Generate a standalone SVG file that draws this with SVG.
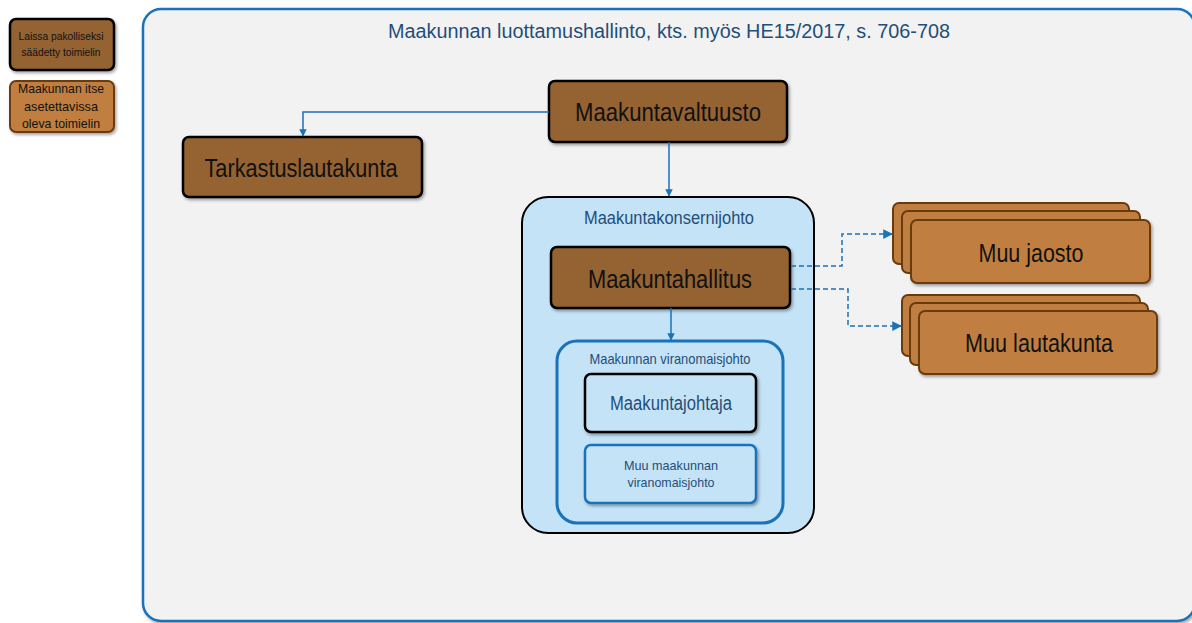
<svg xmlns="http://www.w3.org/2000/svg" width="1192" height="623" viewBox="0 0 1192 623">
<defs>
<filter id="sh" x="-10%" y="-10%" width="130%" height="140%">
<feDropShadow dx="1.5" dy="2" stdDeviation="1.5" flood-color="#000" flood-opacity="0.35"/>
</filter>
<marker id="ah" viewBox="0 0 10 10" refX="9" refY="5" markerWidth="5" markerHeight="5" markerUnits="strokeWidth" orient="auto">
<path d="M0,0 L10,5 L0,10 z" fill="#1A72B8"/>
</marker>
<marker id="ahd" viewBox="0 0 10 10" refX="9" refY="5" markerWidth="6.5" markerHeight="6.5" markerUnits="strokeWidth" orient="auto">
<path d="M0,0 L10,5 L0,10 z" fill="#1A72B8"/>
</marker>
</defs>
<style>
text{font-family:"Liberation Sans",Arial,sans-serif;text-anchor:middle}
.dark{fill:#956232;stroke:#000;stroke-width:2.5}
.light{fill:#C07F40;stroke:#6B3A0A;stroke-width:2}
.blk{fill:#111}
.blue{fill:#1F4E79}
.conn{fill:none;stroke:#1A72B8;stroke-width:1.5}
.dash{stroke-dasharray:5,3}
</style>
<rect width="1192" height="623" fill="#fff"/>
<g id="outer">
<rect x="143" y="9" width="1052" height="612" rx="18" fill="#F2F2F2" stroke="#1A72B8" stroke-width="2.5" filter="url(#sh)"/>
<text x="669" y="38" font-size="20" class="blue" textLength="562" lengthAdjust="spacingAndGlyphs">Maakunnan luottamushallinto,  kts. myös HE15/2017, s. 706-708</text>
</g>
<g id="legend1">
<rect x="10" y="19" width="104" height="51" rx="6" class="dark" filter="url(#sh)"/>
<text x="61" y="40" font-size="11.5" class="blk" textLength="85" lengthAdjust="spacingAndGlyphs">Laissa pakolliseksi</text>
<text x="61" y="56" font-size="11.5" class="blk" textLength="79" lengthAdjust="spacingAndGlyphs">säädetty  toimielin</text>
</g>
<g id="legend2">
<rect x="10" y="81" width="104" height="51" rx="6" class="light" filter="url(#sh)"/>
<text x="61" y="93" font-size="13" class="blk" textLength="86" lengthAdjust="spacingAndGlyphs">Maakunnan itse</text>
<text x="61" y="111" font-size="13" class="blk" textLength="74" lengthAdjust="spacingAndGlyphs">asetettavissa</text>
<text x="61" y="128" font-size="13" class="blk" textLength="78" lengthAdjust="spacingAndGlyphs">oleva toimielin</text>
</g>
<g id="konsernijohto">
<rect x="522" y="197" width="292" height="336" rx="26" fill="#C5E3F6" stroke="#000" stroke-width="2"/>
<text x="669" y="224" font-size="17.5" class="blue" textLength="170" lengthAdjust="spacingAndGlyphs">Maakuntakonsernijohto</text>
</g>
<g id="viranomaisjohto">
<rect x="557" y="341" width="226" height="182" rx="20" fill="#C5E3F6" stroke="#1A72B8" stroke-width="3"/>
<text x="670" y="364" font-size="14.5" class="blue" textLength="161" lengthAdjust="spacingAndGlyphs">Maakunnan  viranomaisjohto</text>
</g>
<g id="maakuntavaltuusto">
<rect x="549" y="81" width="238" height="61" rx="6" class="dark" filter="url(#sh)"/>
<text x="668" y="121" font-size="26" class="blk" textLength="186" lengthAdjust="spacingAndGlyphs">Maakuntavaltuusto</text>
</g>
<g id="tarkastuslautakunta">
<rect x="183" y="137" width="239" height="60" rx="6" class="dark" filter="url(#sh)"/>
<text x="301" y="177" font-size="26" class="blk" textLength="193" lengthAdjust="spacingAndGlyphs">Tarkastuslautakunta</text>
</g>
<g id="maakuntahallitus">
<rect x="551" y="247" width="239" height="61" rx="6" class="dark" filter="url(#sh)"/>
<text x="670" y="288" font-size="26" class="blk" textLength="164" lengthAdjust="spacingAndGlyphs">Maakuntahallitus</text>
</g>
<g id="maakuntajohtaja">
<rect x="585" y="374" width="171" height="58" rx="6" fill="#C5E3F6" stroke="#000" stroke-width="2.5" filter="url(#sh)"/>
<text x="671" y="410" font-size="20" class="blue" textLength="122" lengthAdjust="spacingAndGlyphs">Maakuntajohtaja</text>
</g>
<g id="muu-viranomaisjohto">
<rect x="585" y="445" width="171" height="58" rx="6" fill="#C5E3F6" stroke="#1A72B8" stroke-width="2.5" filter="url(#sh)"/>
<text x="671" y="470" font-size="13" class="blue" textLength="94" lengthAdjust="spacingAndGlyphs">Muu maakunnan</text>
<text x="671" y="487" font-size="13" class="blue" textLength="87" lengthAdjust="spacingAndGlyphs">viranomaisjohto</text>
</g>
<g id="muu-jaosto">
<rect x="893" y="203" width="236" height="61" rx="6" class="light"/>
<rect x="902" y="211" width="238" height="62" rx="6" class="light"/>
<rect x="911" y="220" width="239" height="63" rx="6" class="light" filter="url(#sh)"/>
<text x="1031" y="262" font-size="26" class="blk" textLength="105" lengthAdjust="spacingAndGlyphs">Muu jaosto</text>
</g>
<g id="muu-lautakunta">
<rect x="902" y="295" width="238" height="61" rx="6" class="light"/>
<rect x="910" y="303" width="238" height="62" rx="6" class="light"/>
<rect x="919" y="311" width="238" height="63" rx="6" class="light" filter="url(#sh)"/>
<text x="1039" y="352" font-size="26" class="blk" textLength="148" lengthAdjust="spacingAndGlyphs">Muu lautakunta</text>
</g>
<g id="connectors">
<path d="M549,112 H303 V136" class="conn" marker-end="url(#ah)"/>
<path d="M669,142 V196" class="conn" marker-end="url(#ah)"/>
<path d="M671,308 V340" class="conn" marker-end="url(#ah)"/>
<path d="M791,266 H842 V234 H892" class="conn dash" marker-end="url(#ahd)"/>
<path d="M791,289 H848 V326 H901" class="conn dash" marker-end="url(#ahd)"/>
</g>
</svg>
